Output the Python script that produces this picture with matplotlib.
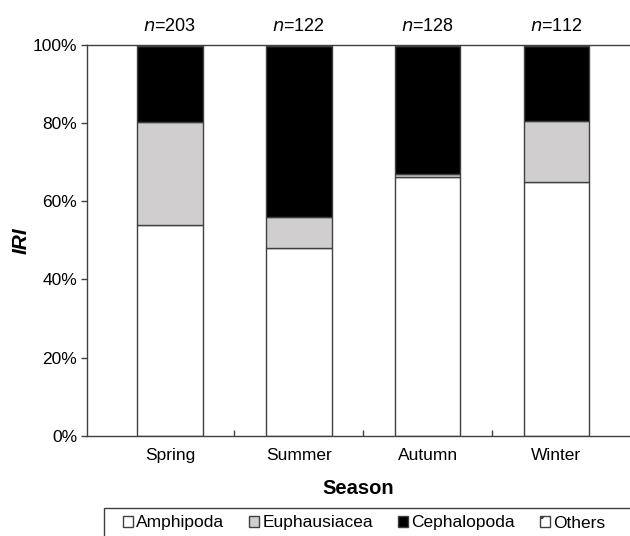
import matplotlib.pyplot as plt
from matplotlib.patches import Patch, Rectangle
from matplotlib.ticker import PercentFormatter

plt.rcParams['font.family'] = ['Liberation Sans', 'DejaVu Sans']

seasons = ['Spring', 'Summer', 'Autumn', 'Winter']
sample_n = [203, 122, 128, 112]
taxa = ['Amphipoda', 'Euphausiacea', 'Cephalopoda', 'Others']
amphipoda = [54.0, 48.0, 66.2, 65.0]
euphausiacea = [26.3, 8.0, 0.9, 15.6]
cephalopoda = [19.5, 43.8, 32.7, 19.2]
others = [0.2, 0.2, 0.2, 0.2]

colors = ['white', '#d0cece', 'black', 'white']
hatches = [None, None, None, '.']
edge = '#404040'

fig = plt.figure(figsize=(6.3, 5.36), dpi=100)
ax = fig.add_axes([0.138, 0.187, 0.862, 0.729])

x = list(range(len(seasons)))
bottom = [0.0] * len(seasons)
for vals, c, h in zip([amphipoda, euphausiacea, cephalopoda, others], colors, hatches):
    ax.bar(x, vals, width=0.51, bottom=bottom, color=c, edgecolor=edge,
           linewidth=1.0, hatch=h)
    bottom = [b + v for b, v in zip(bottom, vals)]

ax.set_xlim(-0.645, 3.571)
ax.set_ylim(0, 100)
ax.set_yticks(range(0, 101, 20))
ax.yaxis.set_major_formatter(PercentFormatter(decimals=0))
ax.tick_params(axis='y', direction='out', length=4, width=1, color=edge,
               labelsize=12.5, pad=3)

# category labels sit under the bars, tick marks between categories
ax.set_xticks(x)
ax.set_xticklabels(seasons, fontsize=12.5)
ax.tick_params(axis='x', which='major', length=0, pad=9)
ax.set_xticks([0.5, 1.5, 2.5], minor=True)
ax.tick_params(axis='x', which='minor', direction='in', length=4, width=1, color=edge)

ax.spines['right'].set_visible(False)
for s in ['left', 'bottom', 'top']:
    ax.spines[s].set_color(edge)
    ax.spines[s].set_linewidth(1.0)

ax.set_ylabel('IRI', fontsize=15, fontweight='bold', style='italic')
ax.yaxis.set_label_coords(-0.103, 0.5)
ax.set_xlabel('Season', fontsize=14.5, fontweight='bold', labelpad=11)

for xi, n in zip(x, sample_n):
    ax.text(xi, 102.5, f'$\\it{{n}}$={n}', ha='center', va='bottom', fontsize=13)

# legend box runs off the lower right corner of the figure
fig.patches.append(Rectangle((104 / 630, -0.05), 0.9, 0.05 + 28 / 536,
                             transform=fig.transFigure, facecolor='white',
                             edgecolor=edge, linewidth=1.0))
handles = [Patch(facecolor=c, edgecolor=edge, hatch=h, linewidth=1.0)
           for c, h in zip(colors, hatches)]
fig.legend(handles, taxa, loc='center left', bbox_to_anchor=(123 / 630, 13 / 536),
           ncol=4, frameon=False, fontsize=12.5,
           handlelength=0.55, handleheight=0.55, handletextpad=0.2,
           columnspacing=1.45, borderpad=0, borderaxespad=0)

fig.savefig('out.png', dpi=100)
